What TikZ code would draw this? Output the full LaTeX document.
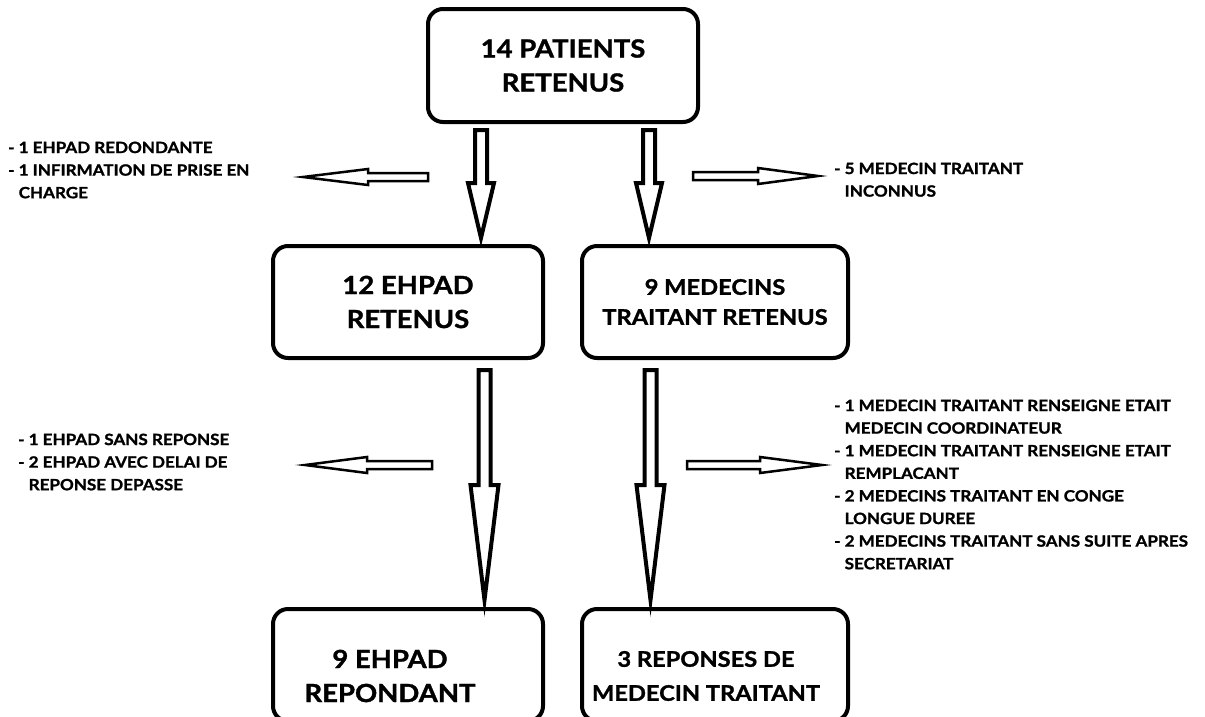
\documentclass[tikz,border=0pt]{standalone}
\usepackage{fontspec}
\setmainfont{Lato}[FakeStretch=1.1, BoldFeatures={FakeBold=1.3}]
\usetikzlibrary{calc}
\tikzset{
  box/.style={draw, line width=4pt, rounded corners=15pt, inner sep=0pt, align=center,
    font=\bfseries\fontsize{25}{34}\selectfont},
  smallbox/.style={font=\bfseries\fontsize{21.5}{30}\selectfont},
  boxtext/.style={inner sep=0pt, align=center, font=\bfseries\fontsize{25}{34}\selectfont},
  sidetext/.style={anchor=north west, inner sep=0pt, align=left,
    font=\bfseries\fontsize{15.5}{22.6}\selectfont},
  vfat/.style={draw, line width=4pt, fill=white, line join=miter},
  hthin/.style={draw, line width=2.5pt, fill=white, line join=miter},
}
% #1 style, #2 start, #3 end, #4 shaft half width, #5 head half width, #6 head length
\newcommand\blockarrow[6]{%
  \path coordinate (bahb) at ($(#3)!#6!(#2)$);
  \draw[#1] ($(#2)!#4!90:(#3)$) -- ($(bahb)!#4!90:(#3)$) -- ($(bahb)!#5!90:(#3)$)
    -- (#3) -- ($(bahb)!#5!-90:(#3)$) -- ($(bahb)!#4!-90:(#3)$) -- ($(#2)!#4!-90:(#3)$) -- cycle;
}
\begin{document}
\begin{tikzpicture}[x=1pt, y=-1pt]
\useasboundingbox (0,0) rectangle (1205,716);
\fill[white] (0,0) rectangle (1205,716);

% boxes
\node[box, minimum width=270pt, minimum height=113pt] (top) at (563,65.5) {14 PATIENTS\\RETENUS};
\node[box, minimum width=270pt, minimum height=112pt] (ehpad) at (408,302) {12 EHPAD\\RETENUS};
\node[box, smallbox, minimum width=266pt, minimum height=112pt] (med) at (715,302) {9 MEDECINS\\TRAITANT RETENUS};
\node[box, minimum width=270pt, minimum height=112pt] (rep) at (408,665) {};
\node[boxtext] (reptext) at (390,676) {9 EHPAD\\REPONDANT};
\node[box, minimum width=266pt, minimum height=112pt] (mrep) at (715,665) {};
\node[boxtext, smallbox, font=\bfseries\fontsize{21.5}{34}\selectfont] (mreptext) at (706,676) {3 REPONSES DE\\MEDECIN TRAITANT};

% side texts
\node[sidetext] (lt) at (8,141.5) {- 1 EHPAD REDONDANTE\\- 1 INFIRMATION DE PRISE EN\\\hphantom{- }CHARGE};
\node[sidetext] (rt) at (834,162.5) {- 5 MEDECIN TRAITANT\\\hphantom{- }INCONNUS};
\node[sidetext] (lm) at (18,433.5) {- 1 EHPAD SANS REPONSE\\- 2 EHPAD AVEC DELAI DE\\\hphantom{- }REPONSE DEPASSE};
\node[sidetext] (rm) at (834,399.5) {- 1 MEDECIN TRAITANT RENSEIGNE ETAIT\\\hphantom{- }MEDECIN COORDINATEUR\\- 1 MEDECIN TRAITANT RENSEIGNE ETAIT\\\hphantom{- }REMPLACANT\\- 2 MEDECINS TRAITANT EN CONGE\\\hphantom{- }LONGUE DUREE\\- 2 MEDECINS TRAITANT SANS SUITE APRES\\\hphantom{- }SECRETARIAT};

% vertical arrow end points
\coordinate (a1s) at (481,130);   \coordinate (a1e) at (481,238);
\coordinate (a2s) at (649,130);   \coordinate (a2e) at (649,238);
\coordinate (a3s) at (484.5,370); \coordinate (a3e) at (484.5,600);
\coordinate (a4s) at (650.5,370); \coordinate (a4e) at (650.5,600);
% horizontal arrow end points
\coordinate (h1s) at (428,177);   \coordinate (h1e) at (303,177);
\coordinate (h2s) at (693,176);   \coordinate (h2e) at (818,176);
\coordinate (h3s) at (432,465);   \coordinate (h3e) at (305,465);
\coordinate (h4s) at (687,465);   \coordinate (h4e) at (822,465);

\blockarrow{vfat}{a1s}{a1e}{6pt}{13pt}{55pt}
\blockarrow{vfat}{a2s}{a2e}{6pt}{13pt}{55pt}
\blockarrow{vfat}{a3s}{a3e}{6pt}{14pt}{115pt}
\blockarrow{vfat}{a4s}{a4e}{6pt}{14pt}{115pt}
\blockarrow{hthin}{h1s}{h1e}{4pt}{8pt}{65pt}
\blockarrow{hthin}{h2s}{h2e}{4pt}{8pt}{60pt}
\blockarrow{hthin}{h3s}{h3e}{4pt}{8pt}{62pt}
\blockarrow{hthin}{h4s}{h4e}{4pt}{8pt}{62pt}
\end{tikzpicture}
\end{document}
